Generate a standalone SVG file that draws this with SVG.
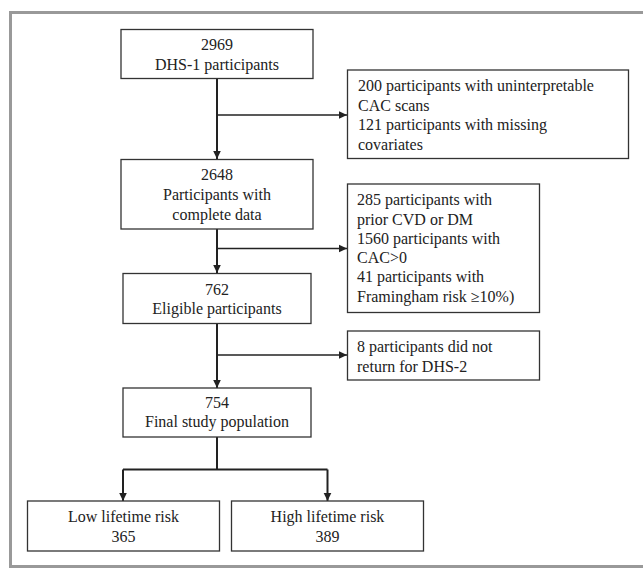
<svg xmlns="http://www.w3.org/2000/svg" width="643" height="568" viewBox="0 0 643 568">
<defs>
<style>
.box{fill:#fff;stroke:#333;stroke-width:1.3}
.t{font-family:"Liberation Serif","Times New Roman",serif;font-size:16px;fill:#222}
.c{text-anchor:middle}
.ln{fill:none;stroke:#222;stroke-width:2}
.br{fill:none;stroke:#222;stroke-width:1.5}
</style>
<marker id="ah" markerUnits="userSpaceOnUse" markerWidth="10" markerHeight="10" viewBox="0 0 10 10" refX="9" refY="5" orient="auto">
<path d="M1,1.2 L9,5 L1,8.8 Z" fill="#222"/>
</marker>
</defs>
<rect x="0" y="0" width="643" height="568" fill="#fff"/>
<path d="M650,12.5 H10.5 V566.5 H650" fill="none" stroke="#999" stroke-width="3"/>

<g id="connectors">
<line class="ln" x1="217" y1="79" x2="217" y2="159" marker-end="url(#ah)"/>
<line class="br" x1="217" y1="115" x2="347" y2="115" marker-end="url(#ah)"/>
<line class="ln" x1="217" y1="229" x2="217" y2="273" marker-end="url(#ah)"/>
<line class="br" x1="217" y1="248.5" x2="347" y2="248.5" marker-end="url(#ah)"/>
<line class="ln" x1="217" y1="323.5" x2="217" y2="388" marker-end="url(#ah)"/>
<line class="br" x1="217" y1="355" x2="347" y2="355" marker-end="url(#ah)"/>
<polyline class="ln" points="217,437 217,469.5"/>
<path class="ln" d="M123,469.5 H327.5"/>
<line class="ln" x1="123" y1="469.5" x2="123" y2="501" marker-end="url(#ah)"/>
<line class="ln" x1="327.5" y1="469.5" x2="327.5" y2="501" marker-end="url(#ah)"/>
</g>

<g id="n1">
<rect class="box" x="121" y="29.5" width="192" height="49"/>
<text class="t c" x="217" y="50">2969</text>
<text class="t c" x="217" y="70">DHS-1 participants</text>
</g>
<g id="n2">
<rect class="box" x="121" y="159.5" width="192" height="69.5"/>
<text class="t c" x="217" y="180">2648</text>
<text class="t c" x="217" y="200">Participants with</text>
<text class="t c" x="217" y="219.5">complete data</text>
</g>
<g id="n3">
<rect class="box" x="123" y="273.5" width="188" height="50"/>
<text class="t c" x="217" y="295">762</text>
<text class="t c" x="217" y="314">Eligible participants</text>
</g>
<g id="n4">
<rect class="box" x="123" y="388" width="188" height="49"/>
<text class="t c" x="217" y="407.5">754</text>
<text class="t c" x="217" y="427">Final study population</text>
</g>
<g id="n5">
<rect class="box" x="27.5" y="501" width="192" height="50"/>
<text class="t c" x="123.5" y="522">Low lifetime risk</text>
<text class="t c" x="123.5" y="541.5">365</text>
</g>
<g id="n6">
<rect class="box" x="231.5" y="501" width="192" height="50"/>
<text class="t c" x="327.5" y="522">High lifetime risk</text>
<text class="t c" x="327.5" y="541.5">389</text>
</g>
<g id="x1">
<rect class="box" x="347.5" y="70" width="281" height="88.5"/>
<text class="t" x="358" y="91">200 participants with uninterpretable</text>
<text class="t" x="358" y="110.5">CAC scans</text>
<text class="t" x="358" y="130">121 participants with missing</text>
<text class="t" x="358" y="149.5">covariates</text>
</g>
<g id="x2">
<rect class="box" x="347.5" y="184" width="192" height="128.5"/>
<text class="t" x="357" y="205">285 participants with</text>
<text class="t" x="357" y="224.5">prior CVD or DM</text>
<text class="t" x="357" y="244">1560 participants with</text>
<text class="t" x="357" y="263">CAC&gt;0</text>
<text class="t" x="357" y="282">41 participants with</text>
<text class="t" x="357" y="301.5">Framingham risk ≥10%)</text>
</g>
<g id="x3">
<rect class="box" x="347.5" y="331" width="192" height="49"/>
<text class="t" x="357" y="351.5">8 participants did not</text>
<text class="t" x="357" y="371.5">return for DHS-2</text>
</g>
</svg>
